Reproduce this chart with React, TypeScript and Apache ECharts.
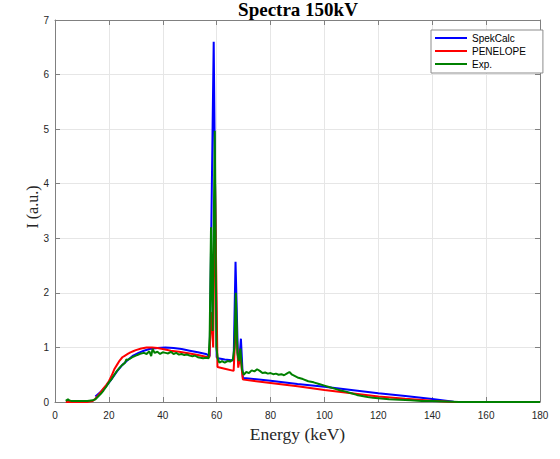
import React, { useEffect, useRef } from "react";
import * as echarts from "echarts";

const xTicks = { min: 0, max: 180, interval: 20 };
const yTicks = { min: 0, max: 7, interval: 1 };
const seriesNames = ["SpekCalc", "PENELOPE", "Exp."];

const spekEnergy = [15, 17, 19, 21, 23, 25, 27, 29, 31, 33, 35, 38, 41, 44, 47, 50, 53, 56, 57.4, 58.9, 60.0, 60.5, 63, 66.3, 67.0, 67.9, 68.4, 69.0, 69.7, 70, 80, 90, 100, 110, 120, 130, 140, 148, 150];
const spekI = [0.1, 0.19, 0.29, 0.42, 0.56, 0.68, 0.77, 0.85, 0.9, 0.94, 0.97, 0.99, 1.0, 0.99, 0.97, 0.94, 0.91, 0.88, 0.84, 6.6, 0.82, 0.8, 0.78, 0.76, 2.57, 0.8, 0.77, 1.16, 0.46, 0.44, 0.39, 0.33, 0.28, 0.22, 0.16, 0.11, 0.055, 0.005, 0.0];

const penEnergy = [4, 8, 12, 14, 15, 16, 17, 18, 19, 20, 21, 22, 23, 24, 25, 26, 27, 28, 29, 30, 32, 34, 36, 38, 40, 43, 46, 50, 53, 56, 57.3, 58.0, 58.7, 59.4, 60.3, 63, 66.3, 67.2, 68.0, 68.8, 69.7, 70, 80, 90, 100, 110, 120, 130, 140, 148, 150];
const penI = [0.0, 0.0, 0.0, 0.02, 0.06, 0.12, 0.18, 0.25, 0.31, 0.38, 0.48, 0.6, 0.68, 0.76, 0.82, 0.85, 0.88, 0.91, 0.93, 0.95, 0.98, 1.0, 1.0, 0.99, 0.97, 0.94, 0.92, 0.89, 0.86, 0.83, 0.82, 1.65, 1.0, 4.0, 0.64, 0.61, 0.57, 1.5, 0.63, 0.84, 0.42, 0.41, 0.35, 0.29, 0.22, 0.16, 0.1, 0.06, 0.025, 0.0, 0.0];

const expEnergy = [4, 4.8, 5.3, 6, 8, 10, 12, 14, 15, 16, 17, 18, 19, 20, 21, 22, 23, 24, 25, 26, 26.5, 27, 28, 29, 30, 31, 32, 33, 34, 35, 35.7, 36.2, 37, 38, 39, 40, 41, 42, 43, 44, 45, 46, 47, 48, 49, 50, 51, 52, 53, 54, 55, 56, 57, 57.4, 57.9, 58.5, 59.3, 59.9, 60.4, 61, 62, 63, 64, 65, 66, 66.6, 67.1, 67.7, 68.2, 68.8, 69.4, 70, 71, 72, 73, 74, 75, 76, 77, 78, 79, 80, 81, 82, 83, 84, 85, 86, 87, 88, 90, 92, 94, 96, 98, 100, 102, 104, 106, 108, 110, 112, 114, 116, 118, 120, 124, 128, 132, 136, 140, 145, 150, 160, 170, 180];
const expI = [0.02, 0.05, 0.03, 0.02, 0.02, 0.02, 0.02, 0.03, 0.05, 0.1, 0.15, 0.21, 0.28, 0.36, 0.42, 0.5, 0.57, 0.63, 0.68, 0.72, 0.78, 0.77, 0.8, 0.83, 0.85, 0.87, 0.89, 0.9, 0.88, 0.93, 0.84, 0.97, 0.9, 0.92, 0.88, 0.91, 0.9, 0.89, 0.92, 0.88, 0.9, 0.87, 0.88, 0.86, 0.87, 0.85, 0.84, 0.85, 0.82, 0.81, 0.8, 0.81, 0.8, 1.2, 3.2, 1.3, 4.97, 1.0, 0.8, 0.72, 0.75, 0.72, 0.75, 0.74, 0.78, 1.0, 2.0, 0.9, 0.75, 0.98, 0.6, 0.5, 0.55, 0.53, 0.58, 0.56, 0.6, 0.57, 0.53, 0.54, 0.52, 0.53, 0.51, 0.52, 0.5, 0.51, 0.49, 0.52, 0.55, 0.5, 0.45, 0.42, 0.38, 0.36, 0.33, 0.3, 0.27, 0.24, 0.21, 0.19, 0.16, 0.13, 0.11, 0.09, 0.08, 0.07, 0.05, 0.04, 0.03, 0.02, 0.02, 0.01, 0.0, 0.0, 0.0, 0.0];

const colors = ["#0000ff", "#ff0000", "#008000"];

const zip = (xs: number[], ys: number[]) => xs.map((x, i) => [x, ys[i]]);

const axisColor = "#808080";
const labelColor = "#262626";
const gridColor = "#e6e6e6";
const sans = "'Liberation Sans', Arial, sans-serif";
const serif = "'Liberation Serif', 'Times New Roman', serif";

export default function App() {
  const ref = useRef<HTMLDivElement>(null);
  useEffect(() => {
    if (!ref.current) return;
    const chart = echarts.init(ref.current, undefined, { renderer: "svg" });
    const baseX = {
      type: "value" as const,
      min: xTicks.min,
      max: xTicks.max,
      interval: xTicks.interval,
      axisLine: { show: true, onZero: false, lineStyle: { color: axisColor, width: 1 } },
      axisTick: { show: true, inside: true, length: 5, lineStyle: { color: axisColor } },
    };
    const baseY = {
      type: "value" as const,
      min: yTicks.min,
      max: yTicks.max,
      interval: yTicks.interval,
      axisLine: { show: true, onZero: false, lineStyle: { color: axisColor, width: 1 } },
      axisTick: { show: true, inside: true, length: 5, lineStyle: { color: axisColor } },
    };
    chart.setOption({
      animation: false,
      backgroundColor: "#ffffff",
      grid: { left: 55, right: 20, top: 20, bottom: 57, containLabel: false },
      graphic: [
        {
          type: "text",
          x: 298,
          y: 9,
          style: {
            text: "Spectra 150kV",
            fontFamily: serif,
            fontWeight: "bold",
            fontSize: 19,
            fill: "#000",
            align: "center",
            verticalAlign: "middle",
          },
        },
        {
          type: "text",
          x: 32,
          y: 207,
          rotation: Math.PI / 2,
          style: {
            text: "I (a.u.)",
            fontFamily: serif,
            fontSize: 16,
            fill: "#262626",
            align: "center",
            verticalAlign: "middle",
          },
        },
      ],
      legend: {
        data: seriesNames,
        orient: "vertical",
        left: 431,
        top: 30,
        padding: [2, 17, 3, 4],
        itemWidth: 32,
        itemHeight: 2,
        itemGap: 1,
        icon: "rect",
        backgroundColor: "#ffffff",
        borderColor: "#8c8c8c",
        borderWidth: 1,
        borderRadius: 0,
        textStyle: { fontFamily: sans, fontSize: 10, color: "#000", lineHeight: 12 },
      },
      xAxis: [
        {
          ...baseX,
          position: "bottom",
          name: "Energy (keV)",
          nameLocation: "middle",
          nameGap: 23,
          nameTextStyle: { fontFamily: serif, fontSize: 17.5, color: "#262626" },
          axisLabel: { show: true, margin: 8, fontFamily: sans, fontSize: 10, color: labelColor },
          splitLine: { show: true, lineStyle: { color: gridColor, width: 1 } },
        },
        {
          ...baseX,
          position: "top",
          axisLabel: { show: false },
          splitLine: { show: false },
        },
      ],
      yAxis: [
        {
          ...baseY,
          position: "left",
          axisLabel: { show: true, margin: 6, fontFamily: sans, fontSize: 10, color: labelColor },
          splitLine: { show: true, lineStyle: { color: gridColor, width: 1 } },
        },
        {
          ...baseY,
          position: "right",
          axisLabel: { show: false },
          splitLine: { show: false },
        },
      ],
      series: [
        { name: seriesNames[0], data: zip(spekEnergy, spekI) },
        { name: seriesNames[1], data: zip(penEnergy, penI) },
        { name: seriesNames[2], data: zip(expEnergy, expI) },
      ].map((s, i) => ({
        ...s,
        type: "line",
        xAxisIndex: 0,
        yAxisIndex: 0,
        symbol: "none",
        showSymbol: false,
        z: 2 + i,
        color: colors[i],
        lineStyle: { color: colors[i], width: 2 },
        emphasis: { disabled: true },
      })),
    });
    return () => chart.dispose();
  }, []);
  return <div ref={ref} style={{ width: 560, height: 459, position: "absolute", left: 0, top: 0 }} />;
}
